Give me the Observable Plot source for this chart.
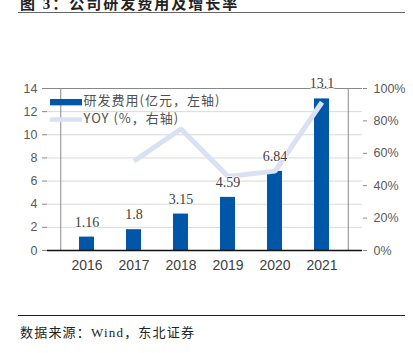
<!DOCTYPE html>
<html><head><meta charset="utf-8">
<script src="https://cdn.jsdelivr.net/npm/d3@7"></script>
<script src="https://cdn.jsdelivr.net/npm/@observablehq/plot@0.6"></script>
<style>
html,body{margin:0;padding:0;background:#fff;}
#wrap{position:relative;width:413px;height:353px;overflow:hidden;}
#title{position:absolute;left:20px;top:-8px;font:bold 15px "Liberation Serif","Noto Sans CJK SC",serif;color:#222;letter-spacing:2px;white-space:nowrap;}
.rule{position:absolute;left:18px;width:387px;}
#caption{position:absolute;left:20px;top:322px;font:13px "Liberation Serif","Noto Sans CJK SC",serif;color:#222;letter-spacing:1.2px;white-space:nowrap;}
#chart{position:absolute;left:0;top:0;}
</style></head>
<body>
<div id="wrap">
  <div id="title">图 3：公司研发费用及增长率</div>
  <div class="rule" style="top:12px;height:0;border-top:1.5px solid #666;"></div>
  <div id="chart"></div>
  <div class="rule" style="top:315px;height:0;border-top:1px solid #222;"></div>
  <div id="caption">数据来源：Wind，东北证券</div>
</div>
<script>
const years = ["2016","2017","2018","2019","2020","2021"];
const rdExpense = [1.16, 1.8, 3.15, 4.59, 6.84, 13.1];
const yoyPct = [null, 55.2, 75.0, 45.7, 49.0, 91.5];
const leftTicks = [0,2,4,6,8,10,12,14];
const rightTicks = [0,20,40,60,80,100];
const legendLabels = ["研发费用(亿元，左轴)", "YOY (%，右轴)"];

const barColor = "#0057a8";
const lineColor = "#d9e1f2";
const k = 14/100;

const bars = years.map((y,i)=>({year:y, value:rdExpense[i]}));
const line = years.map((y,i)=>({year:y, yoy:yoyPct[i]})).filter(d=>d.yoy!=null);

const plot = Plot.plot({
  width: 413, height: 353,
  marginLeft: 47, marginRight: 51, marginTop: 88, marginBottom: 103,
  style:{fontFamily:"Liberation Sans, Arial, sans-serif", fontSize:"13px", color:"#595959", background:"transparent", overflow:"visible"},
  x:{domain:years, padding:0.68, label:null},
  y:{domain:[0,14], label:null},
  marks:[
    Plot.gridY(leftTicks.filter(v=>v<14), {stroke:"#d9d9d9", strokeOpacity:1}),
    Plot.ruleY([14], {stroke:"#888"}),
    Plot.barY(bars, {x:"year", y:"value", fill:barColor}),
    Plot.line(line, {x:"year", y:d=>d.yoy*k, stroke:lineColor, strokeWidth:5, strokeLinejoin:"miter", strokeLinecap:"butt"}),
    Plot.text(bars, {x:"year", y:"value", text:d=>String(d.value), dy:-15, fontFamily:"Liberation Serif, Times New Roman, serif", fontSize:14, fill:"#404040", stroke:"white", strokeWidth:1.5, paintOrder:"stroke"}),
    Plot.axisY(leftTicks, {anchor:"left", tickSize:5, tickPadding:5, stroke:"#888", fill:"#595959", fontSize:12.5}),
    Plot.ruleX([0], {x:()=>years[0], dx:-26.25, y1:0, y2:14, stroke:"#888"}),
    Plot.axisY(rightTicks.map(v=>v*k), {anchor:"right", tickSize:4, tickPadding:7, stroke:"#888", fill:"#595959", fontSize:12.5, tickFormat:v=>Math.round(v/k)+"%"}),
    Plot.ruleX([0], {x:()=>years[5], dx:26.25, y1:0, y2:14, stroke:"#888"}),
    Plot.axisX(years, {tickSize:0, tickPadding:10, fill:"#404040", fontSize:14}),
    Plot.ruleY([0], {stroke:"#111", strokeWidth:1.5}),
    // legend
    Plot.rect([0], {x1:()=>years[0], x2:()=>years[0], y1:12.5, y2:13.05, fill:barColor, render:(i,s,v,d,c,n)=>{const g=n(i,s,v,d,c); const r=g.querySelector("rect"); r.setAttribute("x",50); r.setAttribute("width",32); return g;}}),
    Plot.text([legendLabels[0]], {frameAnchor:"top-left", dx:36, dy:7, text:d=>d, textAnchor:"start", fontFamily:"Noto Sans CJK SC, sans-serif", fontSize:13, fill:"#505050"}),
    Plot.text([legendLabels[1]], {frameAnchor:"top-left", dx:36, dy:25, text:d=>d, textAnchor:"start", fontFamily:"Noto Sans CJK SC, sans-serif", fontSize:13, fill:"#505050"})
  ]
});
document.getElementById("chart").appendChild(plot);
const svg = d3.select(plot);
svg.selectAll("text").filter(function(){return legendLabels.includes(this.textContent);}).style("letter-spacing","1px");
svg.append("line").attr("x1",50).attr("x2",82).attr("y1",119.5).attr("y2",119.5).attr("stroke",lineColor).attr("stroke-width",4.5);
</script>
</body></html>
